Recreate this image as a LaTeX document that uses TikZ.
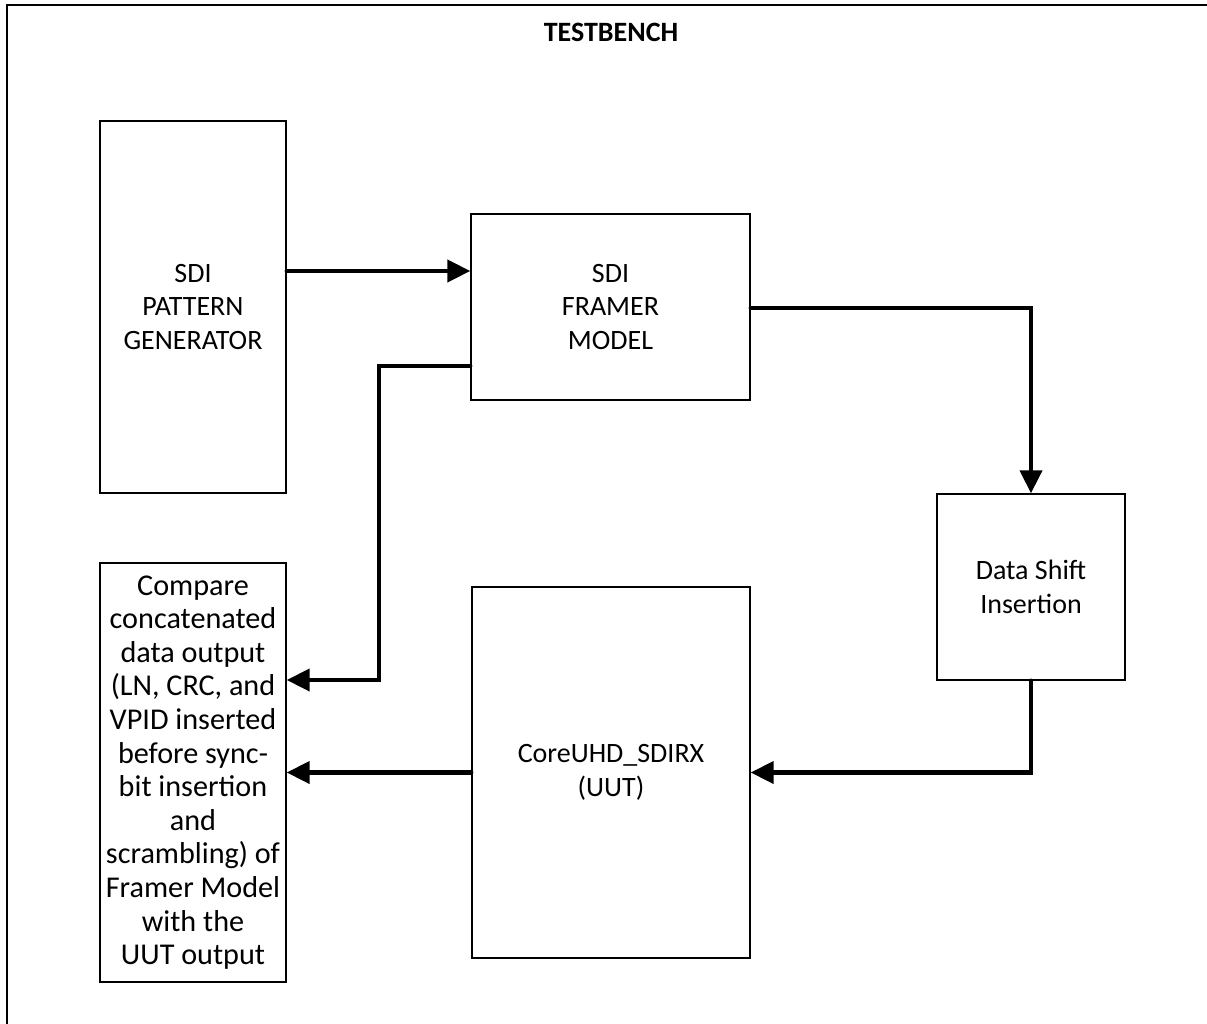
\documentclass[tikz,border=0pt]{standalone}
\usepackage{fontspec}
\setmainfont{Carlito}
\usetikzlibrary{arrows.meta}
\begin{document}
\begin{tikzpicture}[x=1pt,y=-1pt,
  blk/.style={draw=black, line width=1.4pt, inner sep=0pt, align=center,
    font=\fontsize{28}{33.6}\selectfont},
  bigtxt/.style={font=\fontsize{30.2}{33.6}\selectfont},
  conn/.style={line width=4.2pt, line cap=round, line join=miter,
    -{Triangle[length=23pt,width=22pt]}},
  frame/.style={line width=1.8pt}]
\useasboundingbox (0,0) rectangle (1207,1023);
% outer frame (only left and top visible)
\coordinate (fbl) at (7,1030);
\coordinate (ftl) at (7,5);
\coordinate (ftr) at (1215,5);
\draw[frame] (fbl) -- (ftl) -- (ftr);
\node[font=\fontsize{28}{33.6}\selectfont\bfseries] (title) at (611,32) {TESTBENCH};
% blocks
\node[blk, minimum width=186pt, minimum height=372pt] (pg) at (193,307) {SDI\\PATTERN\\GENERATOR};
\node[blk, minimum width=279pt, minimum height=186pt] (fm) at (610.5,307) {SDI\\FRAMER\\MODEL};
\node[blk, minimum width=188pt, minimum height=186pt] (ds) at (1031,587) {Data Shift\\Insertion};
\node[blk, minimum width=278pt, minimum height=371pt] (uut) at (611,772.5) {CoreUHD\_SDIRX\\(UUT)};
\node[blk, bigtxt, minimum width=186pt, minimum height=419pt] (cmp) at (193,772.5) {Compare\\concatenated\\data output\\(LN, CRC, and\\VPID inserted\\before sync-\\bit insertion\\and\\scrambling) of\\Framer Model\\with the\\UUT output};
% connectors
\draw[conn] (pg.east |- 0,271) -- (fm.west |- 0,271);
\draw[conn] (fm.east |- 0,308) -| (ds.north);
\draw[conn] (ds.south) |- (uut.east);
\draw[conn] (uut.west) -- (cmp.east |- uut.west);
\coordinate (bend1) at (379,366);
\coordinate (bend2) at (379,680);
\draw[conn] (fm.west |- bend1) -- (bend1) -- (bend2) -- (cmp.east |- bend2);
\end{tikzpicture}
\end{document}
